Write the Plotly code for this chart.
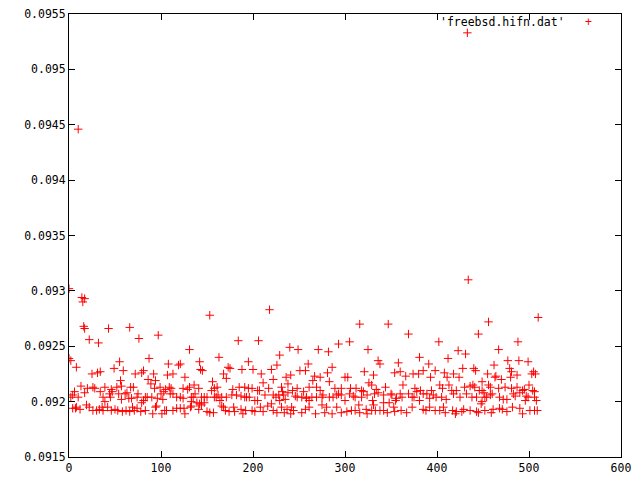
import plotly.graph_objects as go

x_vals = [
    0, 10, 433,
    # 0-70
    14, 17, 15, 16, 17, 43, 66, 22, 32, 0, 2, 55, 8, 49, 59, 25, 31, 34, 56, 13, 20, 26, 28, 39, 52, 57,
    6, 4, 17, 34, 46, 47, 44, 63, 2, 10, 37, 45, 54, 61, 65, 57, 39, 4, 7, 8, 19, 22, 26, 30, 36, 37,
    42, 50, 53, 58, 62, 66, 12, 33, 46,
    # 66-142
    76, 97, 131, 87, 142, 108, 119, 121, 72, 79, 81, 92, 107, 113, 126, 86, 94, 89, 136, 67, 70, 93, 99,
    105, 109, 111, 124, 129, 131, 141, 75, 100, 103, 137, 68, 74, 83, 85, 90, 96, 102, 110, 113, 117, 121,
    124, 133, 135, 81, 133, 139, 142, 69, 71, 74, 79, 78, 83, 94, 95, 91, 101, 104, 106, 113, 117, 121,
    125, 126, 132, 133, 141,
    # 142-218
    218, 153, 184, 206, 163, 195, 173, 175, 143, 145, 188, 200, 168, 171, 209, 156, 211, 161, 158, 155,
    178, 185, 191, 195, 199, 205, 207, 217, 144, 147, 150, 158, 160, 162, 166, 171, 177, 182, 187, 191,
    193, 196, 202, 205, 213, 147, 144, 166, 168, 179, 187, 208, 216, 150, 153, 170, 174, 189, 199, 202,
    211, 164, 157, 180, 192,
    # 218-294
    293, 240, 249, 271, 282, 229, 260, 226, 286, 220, 251, 257, 281, 267, 273, 236, 241, 222, 265, 283,
    238, 261, 231, 248, 243, 255, 269, 289, 232, 238, 273, 293, 222, 225, 228, 233, 246, 248, 253, 258,
    264, 269, 275, 276, 283, 287, 291, 229, 220, 258, 261, 235, 222, 231, 237, 242, 244, 257, 261, 268,
    275, 280, 286, 291, 278, 253, 226, 234, 241,
    # 294-370
    316, 347, 369, 305, 325, 336, 338, 358, 321, 360, 354, 331, 366, 300, 303, 326, 329, 363, 296, 306,
    312, 318, 320, 334, 344, 336, 350, 360, 369, 305, 309, 311, 318, 324, 332, 342, 351, 356, 362, 296,
    300, 315, 330, 331, 342, 348, 355, 353, 296, 302, 307, 311, 316, 323, 324, 329, 333, 338, 342, 346,
    354, 361, 367,
    # 370-446
    434, 445, 402, 423, 431, 381, 412, 391, 428, 385, 398, 440, 442, 374, 380, 408, 418, 393, 411, 424,
    403, 406, 413, 430, 436, 439, 441, 376, 382, 394, 421, 416, 446, 378, 385, 389, 396, 399, 405, 410,
    418, 425, 432, 438, 443, 373, 375, 392, 381, 373, 385, 388, 392, 398, 403, 407, 409, 417, 420, 421,
    427, 429, 436, 443, 445,
    # 446-511
    510, 456, 488, 467, 477, 489, 499, 462, 479, 481, 505, 503, 507, 455, 464, 463, 487, 480, 470, 449,
    500, 456, 458, 467, 474, 481, 487, 504, 506, 490, 493, 495, 451, 449, 460, 458, 483, 485, 497, 499,
    506, 452, 454, 468, 472, 476, 508, 496, 449, 448, 452, 459, 461, 468, 471, 476, 482, 490, 493, 501,
    506, 509,
]

y_vals = [
    0.09302, 0.09446, 0.09533,
    # 0-70
    0.09294, 0.09293, 0.09290, 0.09268, 0.09266, 0.09266, 0.09267, 0.09256, 0.09253, 0.09239, 0.09237,
    0.09236, 0.09231, 0.09230, 0.09228, 0.09225, 0.09226, 0.09227, 0.09219, 0.09214, 0.09212, 0.09213,
    0.09212, 0.09213, 0.09213, 0.09214,
    0.09209, 0.09206, 0.09208, 0.09209, 0.09211, 0.09209, 0.09207, 0.09208, 0.09204, 0.09204, 0.09204,
    0.09204, 0.09207, 0.09207, 0.09203, 0.09202, 0.09200, 0.09194, 0.09194, 0.09195, 0.09197, 0.09195,
    0.09192, 0.09192, 0.09195, 0.09192,
    0.09195, 0.09193, 0.09192, 0.09191, 0.09192, 0.09191, 0.09193, 0.09193, 0.09192,
    # 66-142
    0.09257, 0.09260, 0.09247, 0.09239, 0.09236, 0.09234, 0.09233, 0.09234, 0.09225, 0.09226, 0.09228,
    0.09225, 0.09224, 0.09225, 0.09222, 0.09220, 0.09219, 0.09216, 0.09215, 0.09213, 0.09213, 0.09212,
    0.09213,
    0.09211, 0.09213, 0.09212, 0.09212, 0.09211, 0.09213, 0.09212, 0.09207, 0.09207, 0.09209, 0.09207,
    0.09203, 0.09204, 0.09204, 0.09204, 0.09204, 0.09203, 0.09202, 0.09207, 0.09207, 0.09204, 0.09204,
    0.09203, 0.09204, 0.09204, 0.09201, 0.09200, 0.09199, 0.09198, 0.09195, 0.09192, 0.09194, 0.09199,
    0.09191, 0.09192, 0.09195, 0.09196, 0.09189, 0.09189, 0.09192, 0.09192, 0.09192, 0.09194, 0.09194,
    0.09194, 0.09189, 0.09195, 0.09196, 0.09193,
    # 142-218
    0.09283, 0.09278, 0.09255, 0.09255, 0.09240, 0.09236, 0.09231, 0.09230, 0.09229, 0.09228, 0.09229,
    0.09229, 0.09225, 0.09221, 0.09225, 0.09218, 0.09217, 0.09213, 0.09212, 0.09210,
    0.09211, 0.09213, 0.09213, 0.09212, 0.09212, 0.09210, 0.09210, 0.09212, 0.09204, 0.09204, 0.09204,
    0.09204, 0.09204, 0.09206, 0.09204, 0.09204, 0.09206, 0.09206, 0.09205, 0.09204,
    0.09204, 0.09204, 0.09201, 0.09201, 0.09206, 0.09199, 0.09197, 0.09196, 0.09195, 0.09195, 0.09193,
    0.09195, 0.09196, 0.09191, 0.09190, 0.09192, 0.09191, 0.09189, 0.09192, 0.09191,
    0.09191, 0.09201, 0.09190, 0.09191, 0.09192,
    # 218-294
    0.09252, 0.09249, 0.09247, 0.09247, 0.09245, 0.09242, 0.09234, 0.09233, 0.09231, 0.09229, 0.09228,
    0.09228, 0.09226, 0.09223, 0.09222, 0.09222, 0.09224, 0.09220, 0.09219, 0.09218,
    0.09216, 0.09213, 0.09213, 0.09212, 0.09210, 0.09209, 0.09213, 0.09212, 0.09209, 0.09208, 0.09210,
    0.09207, 0.09206, 0.09204, 0.09206, 0.09206, 0.09205, 0.09204, 0.09204, 0.09204,
    0.09204, 0.09204, 0.09204, 0.09206, 0.09204, 0.09204, 0.09206, 0.09201, 0.09198, 0.09203, 0.09201,
    0.09202, 0.09192, 0.09195, 0.09193, 0.09195, 0.09192, 0.09193, 0.09195, 0.09189,
    0.09197, 0.09195, 0.09189, 0.09195, 0.09190, 0.09190, 0.09190, 0.09190, 0.09189,
    # 294-370
    0.09270, 0.09270, 0.09261, 0.09254, 0.09247, 0.09237, 0.09234, 0.09235, 0.09227, 0.09227, 0.09226,
    0.09224, 0.09223, 0.09222, 0.09222, 0.09217, 0.09215, 0.09215, 0.09212, 0.09212,
    0.09212, 0.09210, 0.09209, 0.09211, 0.09213, 0.09208, 0.09207, 0.09207, 0.09207, 0.09207, 0.09205,
    0.09204, 0.09204, 0.09206, 0.09207, 0.09206, 0.09206, 0.09203, 0.09204, 0.09206,
    0.09201, 0.09197, 0.09201, 0.09197, 0.09199, 0.09199, 0.09201, 0.09195, 0.09190, 0.09191, 0.09192,
    0.09192, 0.09190, 0.09193, 0.09189, 0.09192, 0.09192, 0.09192, 0.09192, 0.09190,
    0.09191, 0.09192, 0.09190,
    # 370-446
    0.09310, 0.09261, 0.09254, 0.09246, 0.09243, 0.09240, 0.09239, 0.09234, 0.09230, 0.09228, 0.09228,
    0.09230, 0.09228, 0.09225, 0.09225, 0.09226, 0.09225, 0.09222, 0.09222, 0.09222,
    0.09215, 0.09212, 0.09215, 0.09213, 0.09214, 0.09215, 0.09213, 0.09212, 0.09210, 0.09210, 0.09210,
    0.09210, 0.09210, 0.09209, 0.09207, 0.09207, 0.09206, 0.09204, 0.09204, 0.09202,
    0.09207, 0.09204, 0.09207, 0.09204, 0.09204, 0.09204, 0.09204, 0.09203, 0.09201, 0.09195, 0.09193,
    0.09192, 0.09195, 0.09192, 0.09192, 0.09195, 0.09190, 0.09192, 0.09189, 0.09191,
    0.09191, 0.09193, 0.09192, 0.09191, 0.09190,
    # 446-511
    0.09276, 0.09272, 0.09254, 0.09247, 0.09237, 0.09237, 0.09236, 0.09233, 0.09230, 0.09227, 0.09227,
    0.09225, 0.09225, 0.09225, 0.09223, 0.09222, 0.09224, 0.09222, 0.09220, 0.09218,
    0.09215, 0.09215, 0.09213, 0.09212, 0.09213, 0.09212, 0.09213, 0.09210, 0.09209, 0.09208, 0.09210,
    0.09211, 0.09208, 0.09210, 0.09207, 0.09206, 0.09207, 0.09205, 0.09205, 0.09204,
    0.09204, 0.09204, 0.09204, 0.09204, 0.09202, 0.09202, 0.09201, 0.09201, 0.09200, 0.09198, 0.09192,
    0.09190, 0.09193, 0.09194, 0.09193, 0.09191, 0.09195, 0.09194, 0.09189, 0.09192,
    0.09192, 0.09192,
]

series_name = "'freebsd.hifn.dat'"
x_ticks = [0, 100, 200, 300, 400, 500, 600]
y_ticks = [0.0915, 0.092, 0.0925, 0.093, 0.0935, 0.094, 0.0945, 0.095, 0.0955]
y_ticklabels = ["0.0915", "0.092", "0.0925", "0.093", "0.0935", "0.094", "0.0945", "0.095", "0.0955"]

n = min(len(x_vals), len(y_vals))

font_family = "DejaVu Sans Mono"

fig = go.Figure()
fig.add_trace(go.Scatter(
    x=x_vals[:n], y=y_vals[:n], mode="markers", name=series_name,
    marker=dict(symbol="cross-thin", size=6, color="#ff0000",
                line=dict(color="#ff0000", width=1)),
    showlegend=False, cliponaxis=True,
))

axis_common = dict(
    showgrid=False, zeroline=False, showline=True, linecolor="black", linewidth=1,
    mirror="ticks", ticks="inside", ticklen=6, tickcolor="black", tickwidth=1,
    automargin=False,
    tickfont=dict(family=font_family, size=11.5, color="black"),
)

fig.update_layout(
    width=640, height=480,
    margin=dict(l=69, r=19, t=14, b=23, pad=0),
    paper_bgcolor="white", plot_bgcolor="white",
    xaxis=dict(range=[0, 600], tickvals=x_ticks, **axis_common),
    yaxis=dict(range=[0.0915, 0.0955], tickvals=y_ticks, ticktext=y_ticklabels, **axis_common),
    annotations=[
        dict(text=series_name, xref="paper", yref="paper", x=0.903, y=0.981,
             xanchor="right", yanchor="middle", showarrow=False,
             font=dict(family=font_family, size=11.5, color="black")),
        dict(text="+", xref="paper", yref="paper", x=0.941, y=0.981,
             xanchor="center", yanchor="middle", showarrow=False,
             font=dict(family=font_family, size=11.5, color="#ff0000")),
    ],
)

fig.write_html(
    "out.html",
    config={"displayModeBar": False},
    post_script="document.body.style.margin='0';document.body.style.overflow='hidden';",
)
